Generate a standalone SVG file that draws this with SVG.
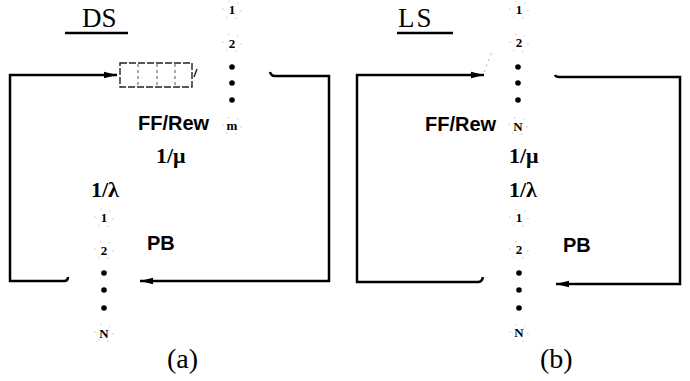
<svg xmlns="http://www.w3.org/2000/svg" width="690" height="381" viewBox="0 0 690 381">
<style>
.ln{fill:none;stroke:#000;stroke-width:2.5;stroke-linejoin:miter}
.serif{font-family:"Liberation Serif","Times New Roman",serif;fill:#000}
.sans{font-family:"Liberation Sans",Arial,sans-serif;font-weight:bold;fill:#000}
.title{font-size:27px}
.rate{font-size:22px;font-weight:bold}
.lbl{font-size:20px}
.srv{font-family:"Liberation Serif","Times New Roman",serif;font-size:13px;font-weight:bold;text-anchor:middle;fill:#000}
.ring{fill:none;stroke:#b5b5b5;stroke-width:0.9;stroke-dasharray:1.5 8}
.dot{fill:#000}
.q{fill:none;stroke:#222;stroke-width:1.4;stroke-dasharray:7 2}
.qd{stroke:#555;stroke-width:1;stroke-dasharray:3 3}
.faint{fill:none;stroke:#aaa;stroke-width:0.9;stroke-dasharray:2 4}
</style>
<defs>
<marker id="ah" markerUnits="userSpaceOnUse" markerWidth="14" markerHeight="8" refX="13" refY="4" orient="auto">
<path d="M0,0.8 L13,4 L0,7.2 Z" fill="#000"/>
</marker>
</defs>

<g id="connectors">
<path class="ln" d="M68,277 Q68,281 64,281 L10,281 L10,75 L117,75" marker-end="url(#ah)"/>
<path class="ln" d="M270,72 Q271,76 275,76 L329,76 L329,281 L140,281" marker-end="url(#ah)"/>
<path class="ln" d="M483,277 Q482,282 478,282 L357,282 L357,75 L484,75" marker-end="url(#ah)"/>
<path class="ln" d="M555,75 Q556,77 559,77 L680,77 L680,284 L556,284" marker-end="url(#ah)"/>
<path class="faint" d="M484,72 L492,52"/>
</g>

<g id="title-ds">
<text class="serif title" x="82" y="27">DS</text>
<line x1="65" y1="33" x2="128" y2="33" stroke="#000" stroke-width="2.5"/>
</g>
<g id="title-ls">
<text class="serif title" x="398" y="27" letter-spacing="2">LS</text>
<line x1="397" y1="33" x2="453" y2="33" stroke="#000" stroke-width="2.5"/>
</g>

<g id="queue-a">
<rect class="q" x="120" y="63" width="72" height="24"/>
<line class="qd" x1="138" y1="64" x2="138" y2="86"/>
<line class="qd" x1="157" y1="64" x2="157" y2="86"/>
<line class="qd" x1="175" y1="64" x2="175" y2="86"/>
<line x1="194" y1="77" x2="197" y2="69" stroke="#222" stroke-width="1.4"/>
</g>

<g id="ffrew-a">
<circle class="ring" cx="232" cy="10" r="9"/>
<text class="srv" x="232" y="14">1</text>
<circle class="ring" cx="232" cy="43" r="9"/>
<text class="srv" x="232" y="48">2</text>
<circle class="dot" cx="232" cy="67" r="2.8"/>
<circle class="dot" cx="232" cy="83" r="2.8"/>
<circle class="dot" cx="232" cy="100" r="2.8"/>
<circle class="ring" cx="232" cy="126" r="9"/>
<text class="srv" x="232" y="130">m</text>
<text class="sans lbl" x="138" y="130">FF/Rew</text>
<text class="serif rate" x="156" y="163">1/μ</text>
</g>

<g id="pb-a">
<text class="serif rate" x="91" y="197">1/λ</text>
<circle class="ring" cx="104" cy="218" r="9"/>
<text class="srv" x="104" y="222">1</text>
<circle class="ring" cx="104" cy="250" r="9"/>
<text class="srv" x="104" y="255">2</text>
<circle class="dot" cx="104" cy="273" r="2.8"/>
<circle class="dot" cx="104" cy="290" r="2.8"/>
<circle class="dot" cx="104" cy="308" r="2.8"/>
<circle class="ring" cx="104" cy="333" r="9"/>
<text class="srv" x="104" y="338">N</text>
<text class="sans lbl" x="147" y="250">PB</text>
</g>

<g id="ffrew-b">
<circle class="ring" cx="519" cy="10" r="9"/>
<text class="srv" x="519" y="14">1</text>
<circle class="ring" cx="519" cy="43" r="9"/>
<text class="srv" x="519" y="47">2</text>
<circle class="dot" cx="518" cy="67" r="2.8"/>
<circle class="dot" cx="518" cy="83" r="2.8"/>
<circle class="dot" cx="518" cy="100" r="2.8"/>
<circle class="ring" cx="518" cy="126" r="9"/>
<text class="srv" x="518" y="131">N</text>
<text class="sans lbl" x="425" y="131">FF/Rew</text>
<text class="serif rate" x="509" y="163">1/μ</text>
</g>

<g id="pb-b">
<text class="serif rate" x="509" y="197">1/λ</text>
<circle class="ring" cx="519" cy="218" r="9"/>
<text class="srv" x="519" y="222">1</text>
<circle class="ring" cx="519" cy="250" r="9"/>
<text class="srv" x="519" y="254">2</text>
<circle class="dot" cx="519" cy="273" r="2.8"/>
<circle class="dot" cx="519" cy="290" r="2.8"/>
<circle class="dot" cx="519" cy="308" r="2.8"/>
<circle class="ring" cx="519" cy="333" r="9"/>
<text class="srv" x="519" y="337">N</text>
<text class="sans lbl" x="563" y="252">PB</text>
</g>

<g id="caption-a"><text class="serif" font-size="28" x="167" y="368">(a)</text></g>
<g id="caption-b"><text class="serif" font-size="28" x="540" y="368">(b)</text></g>
</svg>
